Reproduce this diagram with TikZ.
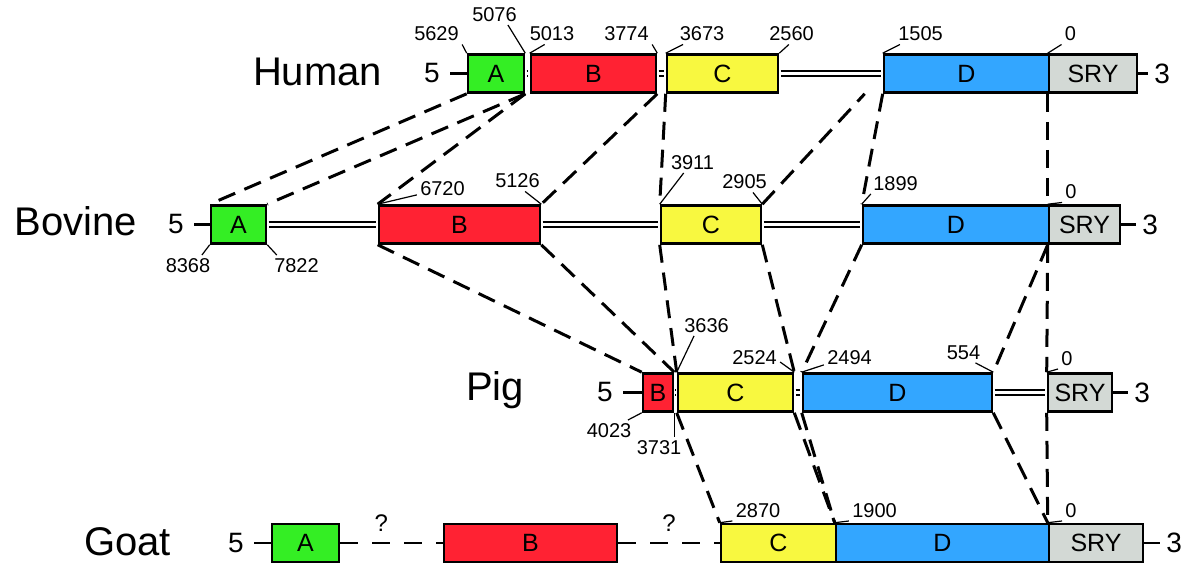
\documentclass[tikz,border=0pt]{standalone}
\usepackage{fontspec}
\setmainfont{Liberation Sans}
\usepackage{xcolor}
\usetikzlibrary{calc}

\definecolor{exonA}{RGB}{52,238,36}
\definecolor{exonB}{RGB}{255,34,51}
\definecolor{exonC}{RGB}{248,248,64}
\definecolor{exonD}{RGB}{51,166,255}
\definecolor{exonS}{RGB}{211,217,213}

\begin{document}
\begin{tikzpicture}[x=0.5pt, y=-0.5pt,
    exon/.style={draw, line width=1.3pt, inner sep=0pt, minimum height=19pt,
        font=\fontsize{12.5}{14}\selectfont},
    intron/.style={line width=1.1pt, double=white, double distance=1.1pt,
        shorten <=0.65pt, shorten >=0.65pt},
    gapline/.style={line width=1.3pt, dash pattern=on 9pt off 7pt},
    homol/.style={line width=1.5pt, dash pattern=on 9pt off 5pt},
    endline/.style={line width=1.3pt},
    num/.style={inner sep=1.5pt, font=\fontsize{10}{12}\selectfont},
    tick/.style={line width=0.6pt},
    species/.style={anchor=base, inner sep=0pt, font=\fontsize{20}{24}\selectfont},
    five/.style={anchor=east, inner xsep=5pt, inner ysep=0pt, font=\fontsize{14}{16}\selectfont},
    three/.style={anchor=west, inner xsep=3pt, inner ysep=0pt, font=\fontsize{14}{16}\selectfont},
    qmark/.style={above, yshift=5pt, inner sep=0pt, font=\fontsize{12}{14}\selectfont}]

    \path[use as bounding box, fill=white] (0,0) rectangle (1200,567);

    % Exons of the four species (x from/to, row centre)
    \foreach \nm/\xa/\xb/\yc/\col/\txt in {
        hA/468/524/73.5/exonA/A, hB/531/656/73.5/exonB/B, hC/667/778/73.5/exonC/C,
        hD/884/1049/73.5/exonD/D, hS/1049/1137/73.5/exonS/SRY,
        bA/211/266/224.5/exonA/A, bB/379/540/224.5/exonB/B, bC/661/761/224.5/exonC/C,
        bD/863/1049/224.5/exonD/D, bS/1049/1120/224.5/exonS/SRY,
        pB/643/673/392.5/exonB/B, pC/678/793/392.5/exonC/C,
        pD/803/992/392.5/exonD/D, pS/1048/1112/392.5/exonS/SRY,
        gA/272/339/543/exonA/A, gB/444/617/543/exonB/B, gC/721/836/543/exonC/C,
        gD/836/1049/543/exonD/D, gS/1049/1143/543/exonS/SRY}
        \node[exon, fill=\col, minimum width={(\xb-\xa)*0.5pt}] (\nm) at ({(\xa+\xb)/2},\yc) {\txt};

    % Species names
    \node[species] (human) at (317.5,86) {Human};
    \node[species] (bovine) at (76,235) {Bovine};
    \node[species] (pig) at (495,400) {Pig};
    \node[species] (goat) at (127.5,555) {Goat};

    % 5' and 3' ends
    \node[five] (h5) at (450,73.5) {5};
    \node[three] (h3) at (1148,73.5) {3};
    \node[five] (b5) at (194,224.5) {5};
    \node[three] (b3) at (1136,224.5) {3};
    \node[five] (p5) at (623,392.5) {5};
    \node[three] (p3) at (1128,392.5) {3};
    \node[five] (g5) at (254,543) {5};
    \node[three] (g3) at (1160,543) {3};
    \foreach \a/\b in {h5/hA, hS/h3, b5/bA, bS/b3, p5/pB, pS/p3, g5/gA, gS/g3}
        \draw[endline] (\a) -- (\b);

    % Introns
    \foreach \a/\b in {hA/hB, hB/hC, hC/hD, bA/bB, bB/bC, bC/bD, pB/pC, pC/pD, pD/pS}
        \draw[intron] (\a) -- (\b);
    \draw[gapline] (gA) -- node[qmark, pos=.4] {?} (gB);
    \draw[gapline] (gB) -- node[qmark] {?} (gC);

    % Positions, human
    \node[num] (n5629) at (436.5,34) {5629};
    \node[num] (n5076) at (494.5,14.5) {5076};
    \node[num] (n5013) at (552,34) {5013};
    \node[num] (n3774) at (626.5,34) {3774};
    \node[num] (n3673) at (702,34) {3673};
    \node[num] (n2560) at (791.5,34) {2560};
    \node[num] (n1505) at (920.5,34) {1505};
    \node[num] (h0) at (1070.5,34) {0};
    \draw[tick] (hA.north west) -- (n5629.south east);
    \draw[tick] (hA.north east) -- (n5076.-38);
    \draw[tick] (hB.north west) -- (n5013.-125);
    \draw[tick] (hB.north east) -- (n3774.south east);
    \draw[tick] (hC.north west) -- (n3673.-151);
    \draw[tick] (hC.north east) -- (n2560.-104);
    \draw[tick] (hD.north west) -- (n1505.-153);
    \draw[tick] (hS.north west) -- (h0.south west);

    % Positions, bovine
    \node[num] (n6720) at (442.5,188.5) {6720};
    \node[num] (n5126) at (517.5,181) {5126};
    \node[num] (n3911) at (692.5,162.5) {3911};
    \node[num] (n2905) at (744.5,182) {2905};
    \node[num] (n1899) at (895.5,183.5) {1899};
    \node[num] (b0) at (1071,192) {0};
    \node[num] (n8368) at (188,265.5) {8368};
    \node[num] (n7822) at (296.5,265.5) {7822};
    \draw[tick] (bB.north west) -- (n6720.-166);
    \draw[tick] (bB.north east) -- (n5126.-54);
    \draw[tick] (bC.north west) -- (n3911.-130);
    \draw[tick] (bC.north east) -- (n2905.-51);
    \draw[tick] (bD.north west) -- (n1899.-157);
    \draw[tick] (bS.north west) -- (b0.south west);
    \draw[tick] (bA.south west) -- (n8368.37);
    \draw[tick] (bA.south east) -- (n7822.152);

    % Positions, pig
    \node[num] (n3636) at (706.5,325.5) {3636};
    \node[num] (n2524) at (754.5,357.5) {2524};
    \node[num] (n2494) at (849.5,357.5) {2494};
    \node[num] (n554) at (963.5,352.5) {554};
    \node[num] (p0) at (1067,358.5) {0};
    \node[num] (n4023) at (609,430.5) {4023};
    \node[num] (n3731) at (659,447.5) {3731};
    \draw[tick] (pC.north west) -- (n3636.-140);
    \draw[tick] (pC.north east) -- (n2524.-10);
    \draw[tick] (pD.north west) -- (n2494.-164);
    \draw[tick] (pD.north east) -- (n554.-41);
    \draw[tick] (pS.north west) -- (p0.south west);
    \draw[tick] (pB.south west) -- (n4023.29);
    \draw[tick] (pB.south east) -- (pB.south east |- n3731.north);

    % Positions, goat
    \node[num] (n2870) at (758,510.5) {2870};
    \node[num] (n1900) at (874.5,510.5) {1900};
    \node[num] (g0) at (1071,510.5) {0};
    \draw[tick] (gC.north west) -- (n2870.south west);
    \draw[tick] (gD.north west) -- (n1900.south west);
    \draw[tick] (gS.north west) -- (g0.south west);

    % Human to bovine
    \draw[homol] (hA.south west) -- (bA.north west);
    \draw[homol] (hA.south east) -- (bA.north east);
    \draw[homol] (hA.south east) -- (bB.north west);
    \draw[homol] (hB.south east) -- (bB.north east);
    \draw[homol] (hC.south west) -- (bC.north west);
    \draw[homol] (bC.north east) -- ([xshift=-9pt]hD.south west);
    \draw[homol] (hD.south west) -- (bD.north west);
    \draw[homol] (hS.south west) -- (bS.north west);

    % Bovine to pig
    \draw[homol] (bB.south west) -- (pB.north west);
    \draw[homol] (bB.south east) -- (pB.north east);
    \draw[homol] (bC.south west) -- (pC.north west);
    \draw[homol] (bC.south east) -- (pC.north east);
    \draw[homol] (bD.south west) -- (pD.north west);
    \draw[homol] (bS.south west) -- (pD.north east);
    \draw[homol] (bS.south west) -- (pS.north west);

    % Pig to goat
    \draw[homol] (pC.south west) -- (gC.north west);
    \draw[homol] (pC.south east) -- (gD.north west);
    \draw[homol] (pD.south west) -- (gD.north west);
    \draw[homol] (pD.south east) -- (gS.north west);
    \draw[homol] (pS.south west) -- (gS.north west);
\end{tikzpicture}
\end{document}
